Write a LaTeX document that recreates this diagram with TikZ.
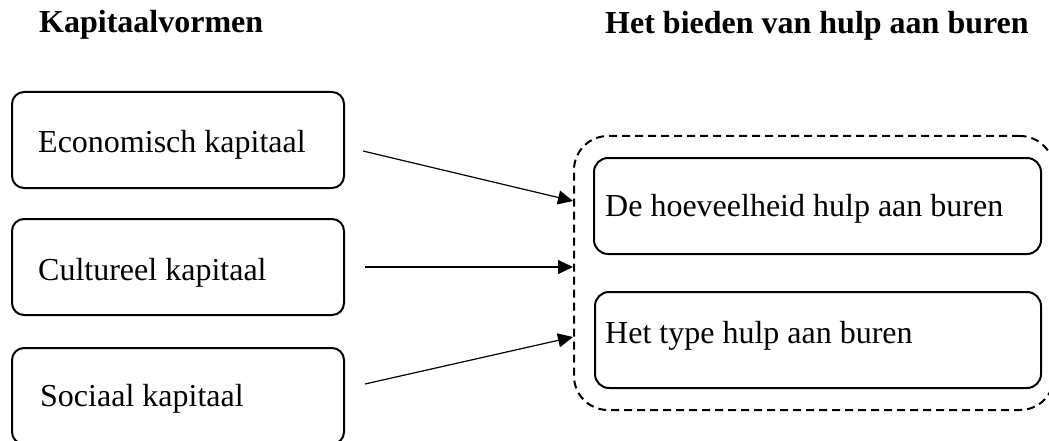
\documentclass[tikz,border=0pt]{standalone}
\usepackage{fontspec}
\setmainfont{Liberation Serif}
\usetikzlibrary{arrows.meta}
\begin{document}
\begin{tikzpicture}[x=1pt,y=-1pt,
  capbox/.style={draw,line width=2pt,rounded corners=12pt,minimum width=332pt,minimum height=96pt,anchor=north west,inner sep=0pt},
  outbox/.style={draw,line width=2pt,rounded corners=14pt,minimum height=96pt,anchor=north west,inner sep=0pt},
  grpbox/.style={draw,line width=2pt,dash pattern=on 8pt off 5pt,rounded corners=34pt,anchor=north west,inner sep=0pt},
  lbl/.style={anchor=base west,inner sep=0pt,font=\fontsize{32pt}{38pt}\selectfont},
  hdr/.style={anchor=base west,inner sep=0pt,font=\fontsize{32pt}{38pt}\selectfont\bfseries},
  arr/.style={line width=1.2pt,-{Triangle[length=15pt,width=14pt]}}]
\useasboundingbox (0,0) rectangle (1049,441);
% headers
\node[hdr] (h1) at (39,33) {Kapitaalvormen};
\node[hdr] (h2) at (605,34) {Het bieden van hulp aan buren};
% left boxes
\node[capbox] (e) at (11,91) {};
\node[capbox] (c) at (11,218) {};
\node[capbox] (s) at (11,347) {};
\node[lbl] (et) at (38,153) {Economisch kapitaal};
\node[lbl] (ct) at (38,280) {Cultureel kapitaal};
\node[lbl] (st) at (40,406) {Sociaal kapitaal};
% group box
\node[grpbox,minimum width=480pt,minimum height=274pt] (g) at (573,135) {};
% right boxes
\node[outbox,minimum width=447pt] (q) at (593,157) {};
\node[outbox,minimum width=446pt] (t) at (594,291) {};
\node[lbl] (qt) at (605,216) {De hoeveelheid hulp aan buren};
\node[lbl] (tt) at (605,343) {Het type hulp aan buren};
% arrows
\coordinate (s1) at (363,151);
\coordinate (s2) at (365,267);
\coordinate (s3) at (365,384);
\draw[arr] (s1) -- (g.west |- 0,201);
\draw[arr] (s2) -- (g.west |- s2);
\draw[arr] (s3) -- (g.west |- 0,337);
\end{tikzpicture}
\end{document}
